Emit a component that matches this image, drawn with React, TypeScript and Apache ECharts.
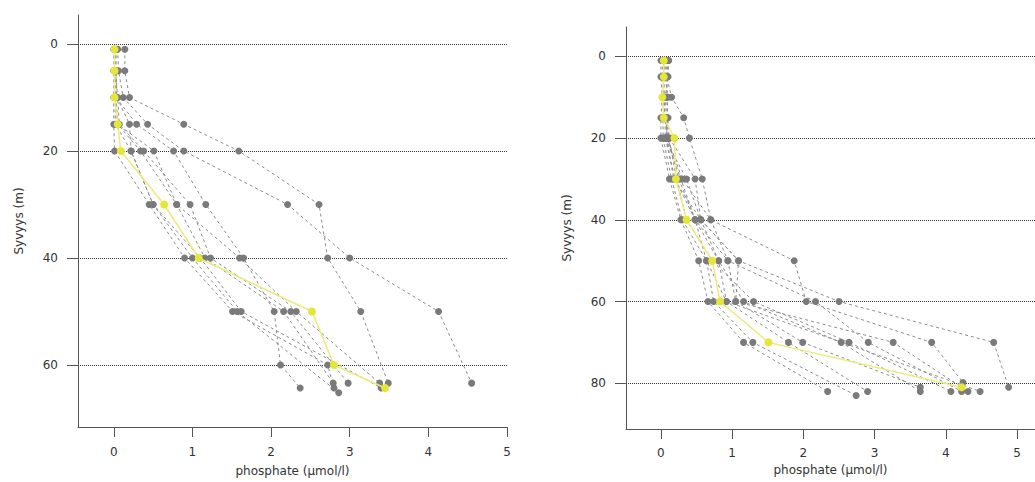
import React, { useEffect, useRef } from "react";
import * as echarts from "echarts";

// ---- tick values ----
const phosphateTicks = [0, 1, 2, 3, 4, 5];
const depthTicksLeft = [0, 20, 40, 60];
const depthTicksRight = [0, 20, 40, 60, 80];

// ---- left panel: [phosphate, depth] ----
const leftHighlight = [[0.01, 1], [0.01, 5], [0.01, 10], [0.05, 15], [0.09, 20], [0.64, 30], [1.08, 40], [2.52, 50], [2.8, 60], [3.45, 64.3]];
const leftStation1 = [[0.14, 1], [0.14, 5], [0.2, 10], [0.89, 15], [1.59, 20], [2.61, 30], [2.72, 40], [3.14, 50], [3.49, 63.4]];
const leftStation2 = [[0.05, 1], [0.06, 5], [0.12, 10], [0.43, 15], [0.89, 20], [2.21, 30], [3.0, 40], [4.13, 50], [4.55, 63.4]];
const leftStation3 = [[0.02, 1], [0.02, 5], [0.03, 10], [0.29, 15], [0.76, 20], [1.17, 30], [1.65, 40], [2.04, 50], [2.12, 60], [2.37, 64.3]];
const leftStation4 = [[0.0, 1], [0.0, 5], [0.0, 10], [0.0, 15], [0.01, 20], [0.45, 30], [0.9, 40], [1.51, 50], [2.72, 60], [2.8, 64.3]];
const leftStation5 = [[0.03, 1], [0.03, 5], [0.04, 10], [0.2, 15], [0.22, 20], [0.5, 30], [1.0, 40], [1.57, 50], [2.86, 65.2]];
const leftStation6 = [[0.01, 1], [0.01, 5], [0.02, 10], [0.05, 15], [0.34, 20], [0.8, 30], [1.16, 40], [2.16, 50], [2.79, 63.4]];
const leftStation7 = [[0.02, 5], [0.05, 10], [0.07, 15], [0.38, 20], [0.97, 30], [1.23, 40], [2.25, 50], [2.98, 63.4]];
const leftStation8 = [[0.03, 10], [0.05, 15], [0.51, 20], [0.8, 30], [1.6, 40], [2.32, 50], [3.38, 63.4]];
const leftStation9 = [[0.02, 10], [0.02, 15], [0.22, 20], [0.5, 30], [1.1, 40], [1.62, 50], [3.4, 64.3]];
const leftStations = [leftStation1, leftStation2, leftStation3, leftStation4, leftStation5, leftStation6, leftStation7, leftStation8, leftStation9];

// ---- right panel: [phosphate, depth] ----
const rightHighlight = [[0.04, 1], [0.04, 5], [0.02, 10], [0.04, 15], [0.19, 20], [0.21, 30], [0.36, 40], [0.72, 50], [0.83, 60], [1.51, 70], [4.22, 81]];
const rightStation1 = [[0.08, 1], [0.08, 5], [0.15, 10], [0.32, 15], [0.4, 20], [0.58, 30], [0.7, 40], [1.87, 50], [2.04, 60], [3.8, 70], [4.24, 79.8]];
const rightStation2 = [[0.06, 1], [0.06, 5], [0.1, 10], [0.08, 15], [0.12, 20], [0.48, 30], [0.56, 40], [1.09, 50], [2.5, 60], [4.67, 70], [4.88, 81]];
const rightStation3 = [[0.0, 1], [0.0, 5], [0.02, 10], [0.0, 15], [0.0, 20], [0.12, 30], [0.28, 40], [0.53, 50], [0.66, 60], [1.16, 70], [2.34, 82]];
const rightStation4 = [[0.02, 1], [0.02, 5], [0.05, 10], [0.03, 15], [0.03, 20], [0.15, 30], [0.3, 40], [0.64, 50], [0.74, 60], [1.29, 70], [2.74, 83]];
const rightStation5 = [[0.05, 1], [0.05, 5], [0.04, 10], [0.06, 15], [0.06, 20], [0.2, 30], [0.48, 40], [0.81, 50], [0.92, 60], [1.79, 70], [2.9, 82]];
const rightStation6 = [[0.1, 1], [0.09, 5], [0.08, 10], [0.1, 15], [0.1, 20], [0.25, 30], [0.48, 40], [0.94, 50], [1.05, 60], [1.99, 70], [3.64, 81]];
const rightStation7 = [[0.11, 1], [0.1, 5], [0.06, 10], [0.08, 15], [0.08, 20], [0.18, 30], [0.56, 40], [0.81, 50], [1.16, 60], [2.53, 70], [3.64, 82]];
const rightStation8 = [[0.04, 10], [0.05, 15], [0.11, 20], [0.22, 30], [0.36, 40], [0.72, 50], [1.3, 60], [2.64, 70], [4.07, 82]];
const rightStation9 = [[0.07, 15], [0.09, 20], [0.3, 30], [0.7, 40], [0.94, 50], [2.17, 60], [2.91, 70], [4.22, 82]];
const rightStation10 = [[0.05, 20], [0.36, 30], [0.56, 40], [1.09, 50], [1.05, 60], [3.26, 70], [4.31, 82]];
const rightStation11 = [[0.07, 20], [0.28, 30], [0.48, 40], [0.64, 50], [0.92, 60], [4.48, 82]];
const rightStations = [rightStation1, rightStation2, rightStation3, rightStation4, rightStation5, rightStation6, rightStation7, rightStation8, rightStation9, rightStation10, rightStation11];

const FONT = "DejaVu Sans";
const TEXT = "#333333";
const AXIS = "#555555";

function xAxisDef(gridIndex: number, min: number, max: number, nameGap: number, margin: number) {
  return {
    gridIndex,
    type: "value",
    min,
    max,
    name: "phosphate (µmol/l)",
    nameLocation: "middle",
    nameGap,
    nameTextStyle: { color: TEXT, fontSize: 12, fontFamily: FONT },
    axisLine: { show: true, onZero: false, lineStyle: { color: AXIS, width: 1 } },
    axisTick: { show: true, inside: false, length: 10, customValues: phosphateTicks, lineStyle: { color: AXIS, width: 1 } },
    axisLabel: { show: true, customValues: phosphateTicks, margin, color: TEXT, fontSize: 12, fontFamily: FONT },
    splitLine: { show: false },
  };
}

function yAxisDef(gridIndex: number, min: number, max: number, ticks: number[]) {
  return {
    gridIndex,
    type: "value",
    inverse: true,
    min,
    max,
    name: "Syvyys (m)",
    nameLocation: "middle",
    nameGap: 53,
    nameTextStyle: { color: TEXT, fontSize: 12, fontFamily: FONT },
    axisLine: { show: true, onZero: false, lineStyle: { color: AXIS, width: 1 } },
    axisTick: { show: true, inside: false, length: 11, customValues: ticks, lineStyle: { color: AXIS, width: 1 } },
    axisLabel: { show: true, customValues: ticks, margin: 20, color: TEXT, fontSize: 12, fontFamily: FONT },
    splitLine: { show: true, lineStyle: { color: "#333333", width: 1, type: [1, 1] } },
  };
}

function graySeries(data: number[][], idx: number) {
  return {
    type: "line",
    xAxisIndex: idx,
    yAxisIndex: idx,
    data,
    symbol: "circle",
    symbolSize: 7,
    showSymbol: true,
    silent: true,
    z: 2,
    itemStyle: { color: "#7a7a7a" },
    lineStyle: { color: "#8c8c8c", width: 1, type: [3, 3] },
  };
}

function yellowSeries(data: number[][], idx: number) {
  return {
    type: "line",
    xAxisIndex: idx,
    yAxisIndex: idx,
    data,
    symbol: "circle",
    symbolSize: 8,
    showSymbol: true,
    silent: true,
    z: 3,
    itemStyle: { color: "#e6e638" },
    lineStyle: { color: "#ebeb7a", width: 1.5, type: "solid" },
  };
}

export default function App() {
  const ref = useRef<HTMLDivElement>(null);
  useEffect(() => {
    if (!ref.current) return;
    const chart = echarts.init(ref.current, undefined, { renderer: "svg" });
    chart.setOption({
      animation: false,
      backgroundColor: "#ffffff",
      grid: [
        { left: 78, top: 15, width: 429, height: 413 },
        { left: 626, top: 27, width: 409, height: 402 },
      ],
      xAxis: [xAxisDef(0, -0.455, 5.0, 38, 19), xAxisDef(1, -0.49, 5.25, 33, 18)],
      yAxis: [yAxisDef(0, -5.42, 71.6, depthTicksLeft), yAxisDef(1, -7.2, 91.2, depthTicksRight)],
      series: [
        ...leftStations.map((s) => graySeries(s, 0)),
        yellowSeries(leftHighlight, 0),
        ...rightStations.map((s) => graySeries(s, 1)),
        yellowSeries(rightHighlight, 1),
      ],
    });
    return () => chart.dispose();
  }, []);
  return (
    <div
      ref={ref}
      style={{ position: "fixed", left: 0, top: 0, width: 1035, height: 482, background: "#fff" }}
    />
  );
}
